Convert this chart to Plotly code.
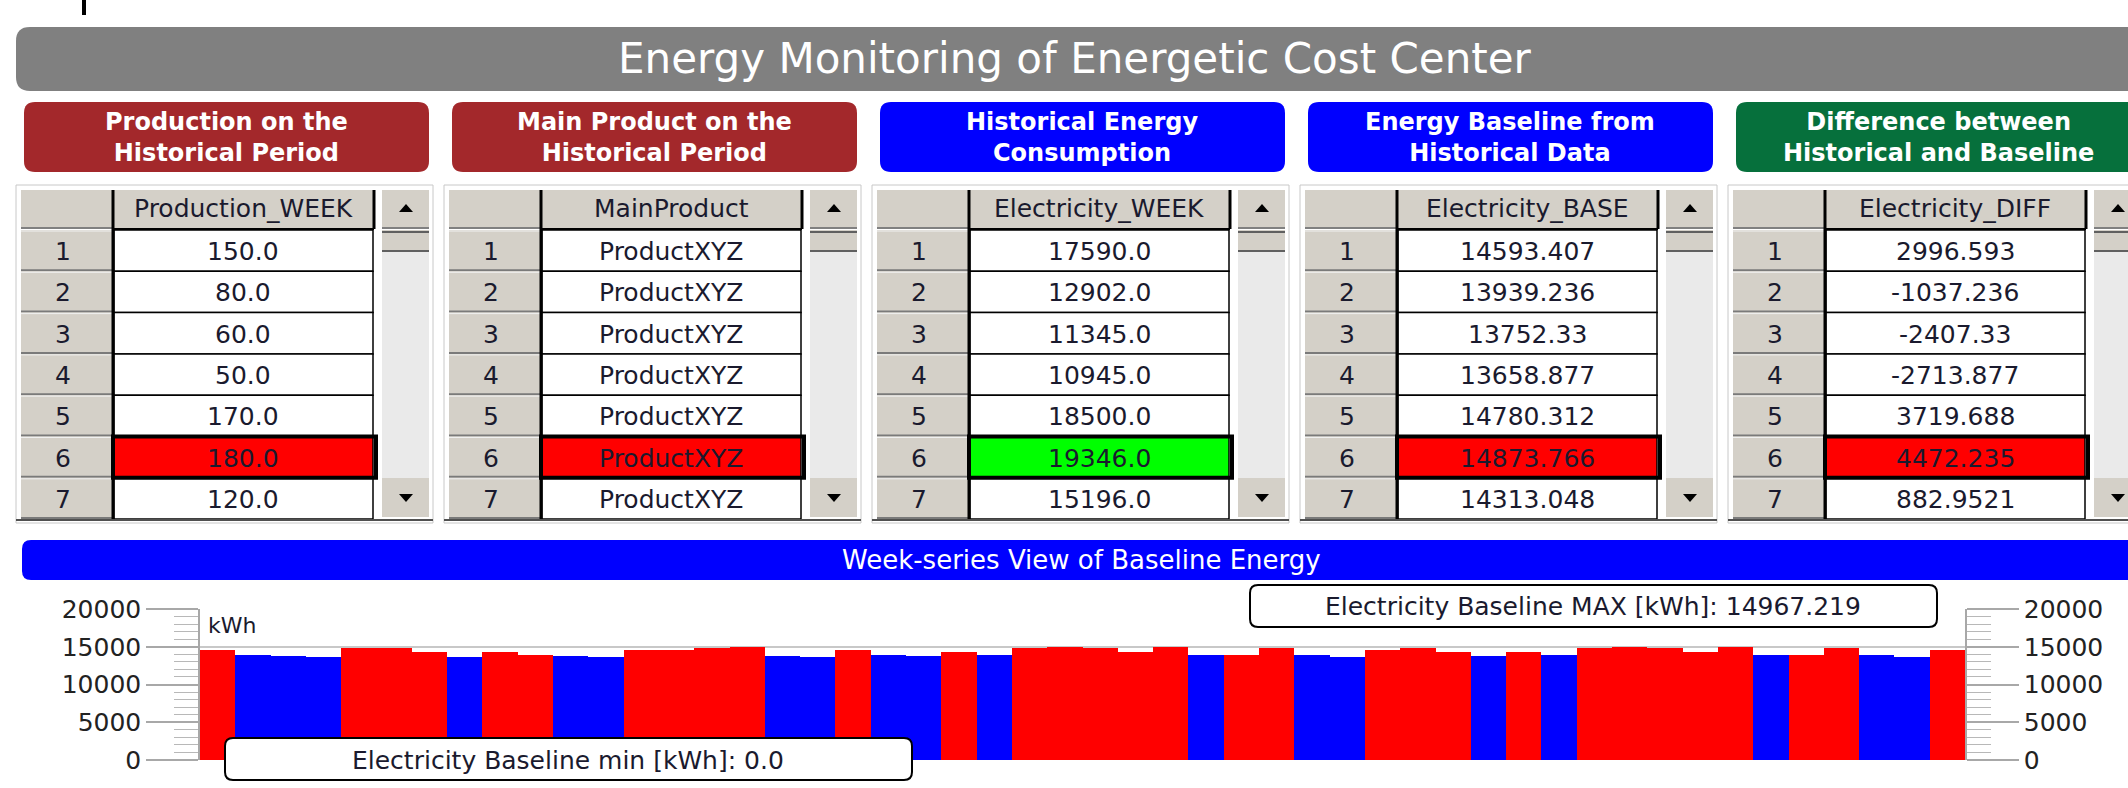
import plotly.graph_objects as go

# ---------------- data ----------------
dashboard_title = "Energy Monitoring of Energetic Cost Center"
panel_titles = [
    "Production on the<br>Historical Period",
    "Main Product on the<br>Historical Period",
    "Historical Energy<br>Consumption",
    "Energy Baseline from<br>Historical Data",
    "Difference between<br>Historical and Baseline",
]
column_headers = ["Production_WEEK", "MainProduct", "Electricity_WEEK",
                  "Electricity_BASE", "Electricity_DIFF"]
row_numbers = [1, 2, 3, 4, 5, 6, 7]
production_week = ["150.0", "80.0", "60.0", "50.0", "170.0", "180.0", "120.0"]
main_product = ["ProductXYZ", "ProductXYZ", "ProductXYZ", "ProductXYZ",
                "ProductXYZ", "ProductXYZ", "ProductXYZ"]
electricity_week = ["17590.0", "12902.0", "11345.0", "10945.0", "18500.0",
                    "19346.0", "15196.0"]
electricity_base = ["14593.407", "13939.236", "13752.33", "13658.877",
                    "14780.312", "14873.766", "14313.048"]
electricity_diff = ["2996.593", "-1037.236", "-2407.33", "-2713.877",
                    "3719.688", "4472.235", "882.9521"]
highlighted_row = 6

chart_title = "Week-series View of Baseline Energy"
unit_label = "kWh"
weeks = list(range(1, 51))
baseline_kwh = [
    14593.407, 13939.236, 13752.33, 13658.877, 14780.312, 14873.766, 14313.048,
    13658.877, 14313.048, 13939.236, 13752.33, 13658.877, 14593.407, 14593.407,
    14780.312, 14967.219, 13752.33, 13658.877, 14593.407, 13939.236, 13752.33,
    14313.048, 13939.236, 14873.766, 14967.219, 14780.312, 14313.048, 14967.219,
    13939.236, 13939.236, 14873.766, 13939.236, 13658.877, 14593.407, 14780.312,
    14313.048, 13752.33, 14313.048, 13939.236, 14873.766, 14967.219, 14780.312,
    14313.048, 14967.219, 13939.236, 13939.236, 14873.766, 13939.236, 13658.877,
    14593.407,
]
above_baseline = [
    1, 0, 0, 0, 1, 1, 1, 0, 1, 1, 0, 0, 1, 1, 1, 1, 0, 0, 1, 0, 0, 1, 0, 1, 1,
    1, 1, 1, 0, 1, 1, 0, 0, 1, 1, 1, 0, 1, 0, 1, 1, 1, 1, 1, 0, 1, 1, 0, 0, 1,
]
y_ticks = [0, 5000, 10000, 15000, 20000]
y_tick_labels = ["0", "5000", "10000", "15000", "20000"]
baseline_min_label = "Electricity Baseline min [kWh]: 0.0"
baseline_max_label = "Electricity Baseline MAX [kWh]: 14967.219"

# ---------------- styling ----------------
W, H = 2128, 788
FONT = "DejaVu Sans"
TXT = "#1A1A2E"
GREY3D = "#D4D0C8"
panel_colors = ["#A3282B", "#A3282B", "#0000FF", "#0000FF", "#06703C"]
highlight_fill = ["#FF0000", "#FF0000", "#00FF00", "#FF0000", "#FF0000"]
table_values = [production_week, main_product, electricity_week,
                electricity_base, electricity_diff]

shapes = []
annotations = []


def X(x):
    return x / W


def Y(y):
    return 1 - y / H


def rect(x0, y0, x1, y1, fill=None, line=None, lw=0):
    shapes.append(dict(type="rect", xref="paper", yref="paper",
                       x0=X(x0), x1=X(x1), y0=Y(y1), y1=Y(y0),
                       fillcolor=fill if fill else "rgba(0,0,0,0)",
                       line=dict(color=line if line else "rgba(0,0,0,0)", width=lw),
                       layer="above"))


def seg(x0, y0, x1, y1, color, lw):
    shapes.append(dict(type="line", xref="paper", yref="paper",
                       x0=X(x0), x1=X(x1), y0=Y(y0), y1=Y(y1),
                       line=dict(color=color, width=lw), layer="above"))


def rounded(x0, y0, x1, y1, r, fill, line=None, lw=0):
    def p(x, y):
        return f"{X(x):.6f},{Y(y):.6f}"
    path = (f"M {p(x0 + r, y0)} L {p(x1 - r, y0)} Q {p(x1, y0)} {p(x1, y0 + r)} "
            f"L {p(x1, y1 - r)} Q {p(x1, y1)} {p(x1 - r, y1)} L {p(x0 + r, y1)} "
            f"Q {p(x0, y1)} {p(x0, y1 - r)} L {p(x0, y0 + r)} Q {p(x0, y0)} {p(x0 + r, y0)} Z")
    shapes.append(dict(type="path", xref="paper", yref="paper", path=path,
                       fillcolor=fill,
                       line=dict(color=line if line else "rgba(0,0,0,0)", width=lw),
                       layer="above"))


def tri(cx, cy, up):
    s = 1 if up else -1
    path = (f"M {X(cx - 7):.6f},{Y(cy + 4 * s):.6f} L {X(cx + 7):.6f},{Y(cy + 4 * s):.6f} "
            f"L {X(cx):.6f},{Y(cy - 4 * s):.6f} Z")
    shapes.append(dict(type="path", xref="paper", yref="paper", path=path,
                       fillcolor="#000000", line=dict(width=0), layer="above"))


def text(cx, cy, s, size, color=TXT, bold=False, anchor="center"):
    annotations.append(dict(xref="paper", yref="paper", x=X(cx), y=Y(cy),
                            text=f"<b>{s}</b>" if bold else s, showarrow=False,
                            xanchor=anchor, yanchor="middle",
                            font=dict(family=FONT, size=size, color=color)))


# small cursor mark top-left
seg(84, 0, 84, 15, "#000000", 4)

# title bar
rounded(16, 27, 2170, 91, 14, "#808080")
text(1075, 59, dashboard_title, 42, color="#FFFFFF")

PITCH = 428
ROW_H = 41.3
ROW_Y0 = 230
for t in range(5):
    ox = t * PITCH
    # coloured header panel
    rounded(24 + ox, 102, 429 + ox, 172, 11, panel_colors[t])
    text(226 + ox, 137, panel_titles[t], 24, color="#FFFFFF", bold=True)

    # table frame
    rect(16 + ox, 185, 433 + ox, 523, fill="#FFFFFF", line="#C8C8C8", lw=1)
    rect(21 + ox, 190, 112 + ox, 228, fill=GREY3D)
    seg(21 + ox, 228, 112 + ox, 228, "#808080", 2)
    rect(114 + ox, 190, 373 + ox, 228, fill=GREY3D)
    text(243 + ox, 209, column_headers[t], 25)

    for i, rn in enumerate(row_numbers):
        y0 = ROW_Y0 + i * ROW_H
        y1 = y0 + ROW_H
        rect(21 + ox, y0, 112 + ox, y1, fill=GREY3D)
        seg(21 + ox, y1 - 1, 112 + ox, y1 - 1, "#7A7A7A", 2)
        seg(21 + ox, y0 + 1, 112 + ox, y0 + 1, "#F0F0F0", 1)
        fill = highlight_fill[t] if rn == highlighted_row else "#FFFFFF"
        rect(114 + ox, y0, 373 + ox, y1, fill=fill, line="#000000", lw=1.5)
        text(63 + ox, (y0 + y1) / 2 + 1, str(rn), 25)
        text(243 + ox, (y0 + y1) / 2 + 1, table_values[t][i], 25)

    hy0 = ROW_Y0 + (highlighted_row - 1) * ROW_H
    rect(113 + ox, hy0, 376 + ox, hy0 + ROW_H, line="#000000", lw=4)

    # grid separators
    seg(113 + ox, 190, 113 + ox, 520, "#000000", 3)
    seg(374 + ox, 190, 374 + ox, 229, "#000000", 3)
    seg(114 + ox, 229, 374 + ox, 229, "#000000", 2)

    # scrollbar
    rect(382 + ox, 190, 429 + ox, 228, fill=GREY3D)
    seg(382 + ox, 228, 429 + ox, 228, "#808080", 2)
    tri(406 + ox, 208, True)
    rect(382 + ox, 230, 429 + ox, 251, fill=GREY3D)
    seg(382 + ox, 232, 429 + ox, 232, "#606060", 2)
    seg(382 + ox, 251, 429 + ox, 251, "#606060", 2)
    rect(382 + ox, 252, 429 + ox, 478, fill="#EAEAEA")
    rect(382 + ox, 478, 429 + ox, 517, fill=GREY3D)
    tri(406 + ox, 498, False)
    seg(16 + ox, 520, 433 + ox, 520, "#505050", 2)

# chart header bar
rounded(22, 540, 2170, 580, 9, "#0000FF")
text(1081, 560, chart_title, 26, color="#FFFFFF")

# kWh label inside plot
text(206, 625, unit_label, 22, anchor="left")

# min / max boxes
rounded(225, 738, 912, 780, 8, "#FFFFFF", line="#000000", lw=2)
text(568, 760, baseline_min_label, 25)
rounded(1250, 585, 1937, 627, 8, "#FFFFFF", line="#000000", lw=2)
text(1593, 606, baseline_max_label, 25)

# ---------------- bar chart ----------------
bar_colors = ["#FF0000" if a else "#0000FF" for a in above_baseline]

fig = go.Figure()
fig.add_trace(go.Bar(x=weeks, y=baseline_kwh, marker=dict(color=bar_colors, line=dict(width=0)),
                     width=1, showlegend=False, hoverinfo="skip"))
fig.add_trace(go.Scatter(x=[weeks[0]], y=[0], yaxis="y2", mode="markers",
                         marker=dict(opacity=0), showlegend=False, hoverinfo="skip"))

axis_common = dict(
    range=[0, 20000], tickmode="array", tickvals=y_ticks, ticktext=y_tick_labels,
    ticks="outside", ticklen=52, tickwidth=1.5,
    tickcolor="#A8A8A8", showline=True, linecolor="#A8A8A8", linewidth=1.5,
    showgrid=True, gridcolor="#C8C8C8", gridwidth=1.5, zeroline=False,
    tickfont=dict(family=FONT, size=25, color="#222222"),
    minor=dict(dtick=1000, tick0=0, ticks="outside", ticklen=24, tickcolor="#B8B8B8",
               tickwidth=1.2, showgrid=False),
    domain=[Y(760), Y(609)], fixedrange=True, automargin=False,
)

fig.update_layout(
    width=W, height=H, autosize=False, template="none",
    margin=dict(l=0, r=0, t=0, b=0, pad=0),
    paper_bgcolor="#FFFFFF", plot_bgcolor="#FFFFFF",
    bargap=0, showlegend=False,
    xaxis=dict(domain=[X(200), X(1965)], range=[0.5, 50.5], visible=False,
               fixedrange=True),
    yaxis=dict(side="left", anchor="x", **axis_common),
    yaxis2=dict(side="right", anchor="x", overlaying="y", **axis_common),
    shapes=shapes,
    annotations=annotations,
    font=dict(family=FONT),
)

fig.write_html("out.html", config={"displayModeBar": False},
               post_script="document.body.style.margin='0px';")
